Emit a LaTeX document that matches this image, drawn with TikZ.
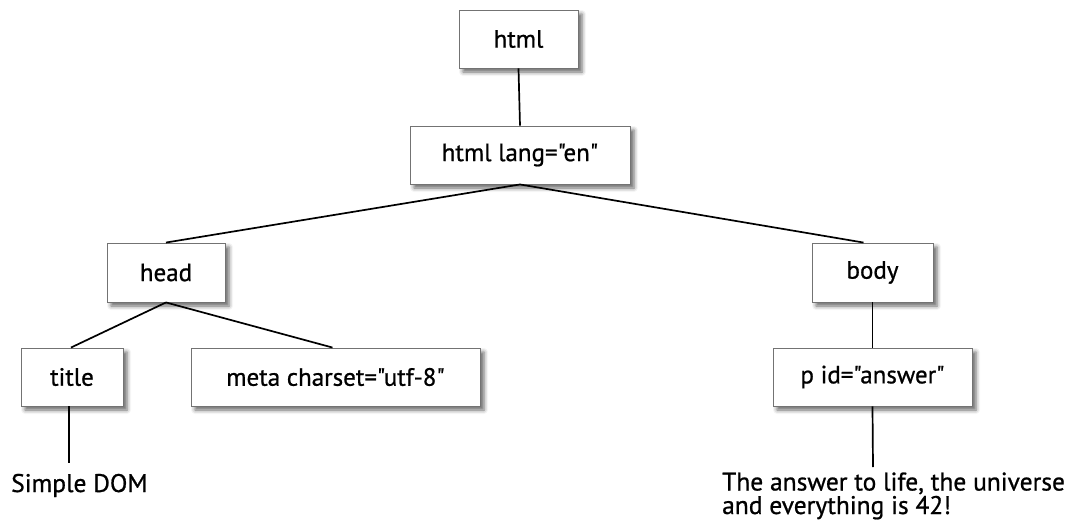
\documentclass[tikz,border=0pt]{standalone}
\usepackage{fontspec}
\setmainfont{PT Sans}[Ligatures=TeXOff, FakeBold=0.8]
\usetikzlibrary{shadows.blur}
\begin{document}
\begin{tikzpicture}[x=1pt,y=-1pt,
  box/.style={draw=black!55, line width=0.9pt, fill=white, inner sep=0pt,
    blur shadow={shadow xshift=4pt, shadow yshift=-4pt, shadow blur radius=4pt, shadow opacity=60},
    font=\fontsize{25}{25}\selectfont},
  conn/.style={line width=1.7pt, black},
  lbl/.style={font=\fontsize{25.5}{23.5}\selectfont, inner sep=0pt}]
\useasboundingbox (0,0) rectangle (1077,522);
\node[box, minimum width=119pt, minimum height=58pt] (html) at (518.5,39) {html};
\node[box, minimum width=220pt, minimum height=58pt] (lang) at (520,155) {html lang="en"};
\node[box, minimum width=118pt, minimum height=59pt] (head) at (166,272.5) {head};
\node[box, minimum width=121pt, minimum height=59pt] (body) at (872.5,272.5) {body};
\node[box, minimum width=102pt, minimum height=58pt] (title) at (72,377) {title};
\node[box, minimum width=289pt, minimum height=58pt] (meta) at (335.5,377) {meta charset="utf-8"};
\node[box, minimum width=199pt, minimum height=58pt] (p) at (872.5,377) {p id="answer"};
\coordinate (tend) at (69,463);
\coordinate (pend) at (873,467);
\node[lbl, anchor=base west] (dom) at (11,492) {Simple DOM};
\node[lbl, anchor=base west, align=left] (ans) at (722,514) {The answer to life, the universe\\ and everything is 42!};
\draw[conn] (html.south) -- (lang.north);
\draw[conn] (lang.south) -- (head.north);
\draw[conn] (lang.south) -- ([xshift=-9pt]body.north);
\draw[conn] (head.south) -- ([xshift=-1pt]title.north);
\draw[conn] (head.south) -- ([xshift=-3pt]meta.north);
\draw[conn] (body.south) -- ([xshift=0pt]p.north);
\draw[conn] ([xshift=-3pt]title.south) -- (tend);
\draw[conn] (p.south) -- (pend);
\end{tikzpicture}
\end{document}
